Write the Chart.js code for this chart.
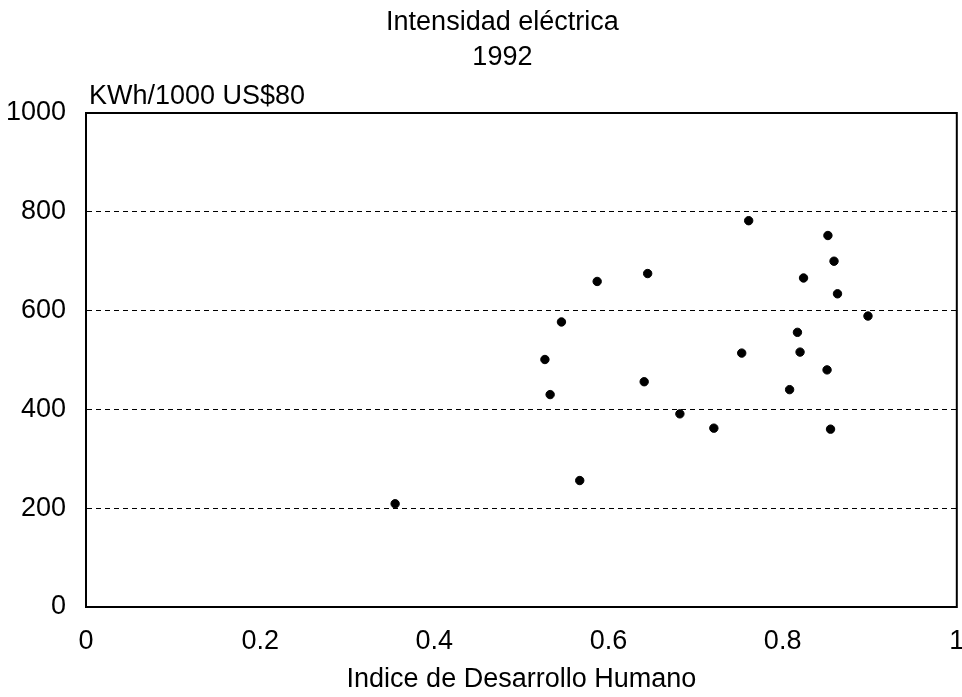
<!DOCTYPE html>
<html lang="es">
<head>
<meta charset="utf-8">
<title>Intensidad eléctrica 1992</title>
<script src="https://cdn.jsdelivr.net/npm/chart.js@4/dist/chart.umd.min.js"></script>
<style>
    html, body { margin: 0; padding: 0; background: #fff; }
    #wrap { width: 962px; height: 697px; position: relative; }
</style>
</head>
<body>
<div id="wrap"><canvas id="chart-idh"></canvas></div>
<script>
// datos
const titleLines = ["Intensidad eléctrica", "1992"];
const yUnitLabel = "KWh/1000 US$80";
const xAxisTitle = "Indice de Desarrollo Humano";

const xTickLabels = ["0", "0.2", "0.4", "0.6", "0.8", "1"];
const yTickLabels = ["0", "200", "400", "600", "800", "1000"];

// Indice de Desarrollo Humano (x) y KWh/1000 US$80 (y)
const idh = [0.355, 0.527, 0.533, 0.546, 0.567, 0.587, 0.641, 0.645, 0.682, 0.721, 0.753,
             0.761, 0.808, 0.817, 0.820, 0.824, 0.851, 0.852, 0.855, 0.859, 0.863, 0.898];
const kwh = [209, 501, 430, 577, 256, 659, 456, 675, 391, 362, 514,
             782, 440, 556, 516, 666, 480, 752, 360, 700, 634, 589];

const FONT = "'Liberation Sans', Arial, Helvetica, sans-serif";
Chart.defaults.font.family = FONT;
Chart.defaults.font.size = 27;
Chart.defaults.color = "#000";

// marco completo, título (algo desplazado a la derecha como en el original) y unidades
const framePlugin = {
    id: "frame",
    beforeDatasetsDraw(chart) {
        const { ctx, chartArea: a } = chart;
        ctx.save();
        ctx.strokeStyle = "#000";
        ctx.lineWidth = 2;
        ctx.strokeRect(a.left, a.top, a.right - a.left, a.bottom - a.top);
        ctx.restore();
    },
    afterDraw(chart) {
        const { ctx, chartArea: a } = chart;
        ctx.save();
        ctx.font = "27px " + FONT;
        ctx.fillStyle = "#000";

        ctx.textAlign = "center";
        ctx.textBaseline = "middle";
        const cx = (a.left + a.right) / 2 - 19;
        titleLines.forEach((line, i) => {
            ctx.fillText(line, cx, 23 + i * 34.5);
        });

        ctx.textAlign = "left";
        ctx.textBaseline = "alphabetic";
        ctx.fillText(yUnitLabel, a.left + 3, a.top - 9);
        ctx.restore();
    }
};

const points = idh.map((x, i) => ({ x: x, y: kwh[i] }));

new Chart(document.getElementById("chart-idh"), {
    type: "scatter",
    data: {
        datasets: [{
            data: points,
            backgroundColor: "#000",
            borderColor: "#000",
            pointRadius: 4.2,
            pointHoverRadius: 4.2
        }]
    },
    options: {
        responsive: true,
        maintainAspectRatio: false,
        animation: false,
        layout: { padding: { left: 0, right: 5, top: 113, bottom: 0 } },
        plugins: {
            legend: { display: false },
            tooltip: { enabled: false },
            title: { display: false }
        },
        scales: {
            x: {
                type: "linear",
                min: 0,
                max: 1,
                grid: { display: false, drawTicks: false },
                border: { display: true, color: "#000", width: 2 },
                ticks: {
                    stepSize: 0.2,
                    padding: 18,
                    maxRotation: 0,
                    callback: (v, i) => xTickLabels[i]
                },
                title: {
                    display: true,
                    text: xAxisTitle,
                    font: { size: 27 },
                    padding: { top: 0, bottom: 1 }
                },
                afterFit(scale) {
                    scale.height = 90;
                    scale.paddingLeft = 0;
                    scale.paddingRight = 0;
                }
            },
            y: {
                min: 0,
                max: 1000,
                grid: {
                    drawTicks: false,
                    color: ctx => (ctx.tick && (ctx.tick.value === 0 || ctx.tick.value === 1000)) ? "rgba(0,0,0,0)" : "#000",
                    lineWidth: 1
                },
                border: { display: true, color: "#000", width: 2, dash: [5, 4] },
                ticks: {
                    stepSize: 200,
                    padding: 20,
                    callback: (v, i) => yTickLabels[i]
                },
                afterFit(scale) {
                    scale.width = 86;
                    scale.paddingTop = 0;
                    scale.paddingBottom = 0;
                }
            }
        }
    },
    plugins: [framePlugin]
});
</script>
</body>
</html>
